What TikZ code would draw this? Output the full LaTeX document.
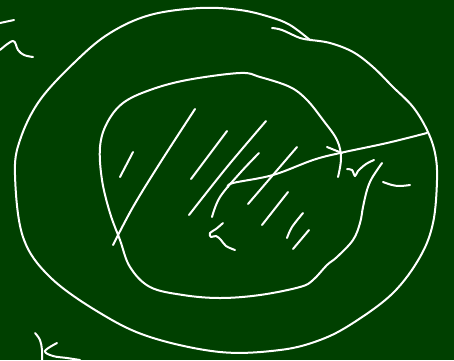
\documentclass[tikz,border=0pt]{standalone}
\usepackage{xcolor}
\definecolor{board}{RGB}{0,64,0}
\tikzset{chalk/.style={draw=white,line width=2pt,line cap=round,line join=round}}
\begin{document}
\begin{tikzpicture}[x=1pt,y=-1pt]
\fill[board] (0,0) rectangle (454,360);
\useasboundingbox (0,0) rectangle (454,360);
% outer loop
\draw[chalk] plot[smooth,tension=0.6] coordinates {(310,40) (290,25) (270,17) (240,10) (200,8) (150,15) (110,33) (77,60) (40,100) (20,140) (15,175) (23,237) (50,277) (100,313) (150,337) (220,352) (280,350) (320,340) (353,323) (393,293) (420,257) (433,223) (437,180) (435,153) (427,130) (413,107) (393,87) (373,67) (353,52) (330,43) (310,40)};
\draw[chalk] plot[smooth,tension=0.6] coordinates {(272,28) (282,30) (300,38) (312,40)};
% inner loop
\draw[chalk] plot[smooth,tension=0.6] coordinates {(338,177) (341,158) (337,140) (323,120) (307,100) (290,87) (260,77) (240,73) (187,80) (150,90) (123,103) (107,123) (100,147) (102,180) (110,213) (120,240) (130,267) (150,287) (183,295) (220,298) (260,295) (300,287) (313,280) (327,265) (337,257) (353,240) (360,223) (363,207) (367,190) (372,178) (382,163)};
% crossing line
\draw[chalk] plot[smooth,tension=0.6] coordinates {(228,187) (233,183) (273,175) (313,160) (340,153) (387,143) (427,133)};
\draw[chalk] (327,147) -- (342,153);
% r-like hook
\draw[chalk] plot[smooth,tension=0.6] coordinates {(347,169) (352,170) (355,176) (358,171) (366,164) (374,160)};
% dash right
\draw[chalk] plot[smooth,tension=0.6] coordinates {(383,182) (392,185) (400,186) (410,185)};
% hatching
\draw[chalk] (120,177) -- (133,152);
\draw[chalk] plot[smooth,tension=0.6] coordinates {(113,245) (133,207) (160,163) (195,109)};
\draw[chalk] (191,179) -- (227,131);
\draw[chalk] plot[smooth,tension=0.6] coordinates {(189,215) (227,167) (266,121)};
\draw[chalk] plot[smooth,tension=0.6] coordinates {(212,217) (220,197) (240,173) (259,153)};
\draw[chalk] (248,204) -- (297,147);
\draw[chalk] (262,225) -- (288,192);
\draw[chalk] plot[smooth,tension=0.6] coordinates {(287,238) (292,227) (303,213)};
\draw[chalk] (293,249) -- (309,230);
% alpha-like scribble
\draw[chalk] plot[smooth,tension=0.6] coordinates {(223,223) (216,229) (210,233) (211,237) (216,236) (221,240) (226,246) (235,250)};
% top-left marks
\draw[chalk] (0,23) -- (14,20);
\draw[chalk] plot[smooth,tension=0.6] coordinates {(0,50) (13,41) (18,50) (24,55) (33,57)};
% bottom-left marks
\draw[chalk] plot[smooth,tension=0.6] coordinates {(35,333) (40,340) (42,350) (42,360)};
\draw[chalk] plot[smooth,tension=0.6] coordinates {(57,343) (45,351) (53,356) (67,358) (80,360)};
\end{tikzpicture}
\end{document}
